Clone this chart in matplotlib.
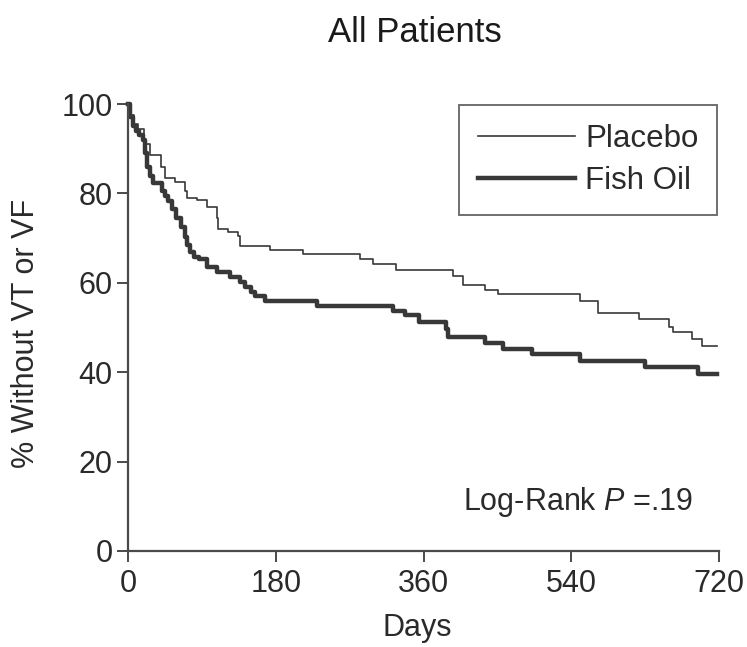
import numpy as np
import matplotlib
matplotlib.use("Agg")
import matplotlib.pyplot as plt

plt.rcParams['font.family'] = ['Liberation Sans', 'DejaVu Sans']
plt.rcParams['mathtext.fontset'] = 'custom'
plt.rcParams['mathtext.rm'] = 'Liberation Sans'
plt.rcParams['mathtext.it'] = 'Liberation Sans:italic'

# Kaplan-Meier steps (day, % without VT/VF)
placebo_days = [0, 3, 7, 12, 19, 27, 40, 45, 57, 69, 72, 84, 96, 108, 110, 122, 134, 136,
                173, 213, 283, 299, 326, 396, 408, 435, 451, 551, 572, 623, 659, 664, 687, 699, 718]
placebo_pct = [100, 97.5, 95.5, 94.5, 91, 88.5, 86, 83.5, 82.5, 80.5, 79, 78.5, 77, 74.5, 72, 71.3, 70.5, 68.3,
               67.3, 66.5, 65.3, 64.1, 62.9, 61.6, 59.5, 58.4, 57.4, 56, 53.3, 51.9, 50.2, 49, 47.5, 45.8, 45.8]

fish_days = [0, 3, 6, 10, 14, 18, 21, 23, 27, 31, 41, 45, 49, 54, 59, 64, 69, 72, 75, 80, 86, 96,
             108, 124, 136, 142, 150, 155, 167, 230, 323, 337, 354, 388, 390, 435, 457, 492, 551, 630, 695, 718]
fish_pct = [100, 97, 95, 94, 93, 92, 89, 86, 84, 82.4, 80.6, 79.5, 78.3, 76.5, 74.6, 72.5, 70.2, 68.5, 66.8, 65.8, 65.3, 63.5,
            62.4, 61.2, 60.1, 59, 58, 57.1, 56, 54.8, 53.8, 52.7, 51.2, 49.7, 47.8, 46.5, 45.2, 44, 42.5, 41.2, 39.5, 39.5]

x_ticks = [0, 180, 360, 540, 720]
y_ticks = [0, 20, 40, 60, 80, 100]

W, H = 747, 647
fig = plt.figure(figsize=(W/100, H/100), dpi=100)
ax = fig.add_axes([128/W, 1-551/H, 591/W, 447/H])

line_col = '#383838'
ax.plot(placebo_days, placebo_pct, drawstyle='steps-post', color=line_col, lw=1.2,
        label='Placebo', clip_on=False)
ax.plot(fish_days, fish_pct, drawstyle='steps-post', color=line_col, lw=3.2,
        label='Fish Oil', clip_on=False)

ax.set_xlim(0, 720)
ax.set_ylim(0, 100)
ax.set_xticks(x_ticks)
ax.set_yticks(y_ticks)
for s in ['top', 'right']:
    ax.spines[s].set_visible(False)
for s in ['left', 'bottom']:
    ax.spines[s].set_color('#4a4a4a')
    ax.spines[s].set_linewidth(1.6)
ax.tick_params(direction='out', length=8, width=1.4, color='#4a4a4a',
               labelsize=22, labelcolor='#2a2a2a')
ax.tick_params(axis='y', pad=3)
ax.tick_params(axis='x', pad=5)

fig.text(26/W, 1-333/H, '% Without VT or VF', rotation=90, fontsize=22,
         ha='center', va='center', color='#2a2a2a')
fig.text(417/W, 1-628/H, 'Days', fontsize=22, ha='center', va='center', color='#2a2a2a')
fig.text(415/W, 1-33/H, 'All Patients', fontsize=25, ha='center', va='center', color='#1a1a1a')

ax.text(689, 11.0, 'Log-Rank $P$ =.19', fontsize=22, ha='right', va='center', color='#2a2a2a')

leg = ax.legend(loc='upper right', bbox_to_anchor=(717/W, 1-105/H), bbox_transform=fig.transFigure,
                fontsize=22.5, frameon=True, fancybox=False, handlelength=3.1, handletextpad=0.33,
                borderpad=0.6, labelspacing=0.4, borderaxespad=0)
leg.get_frame().set_edgecolor('#4a4a4a')
leg.get_frame().set_linewidth(1.4)
for t in leg.get_texts():
    t.set_color('#2a2a2a')

fig.savefig('out.png', dpi=100)
